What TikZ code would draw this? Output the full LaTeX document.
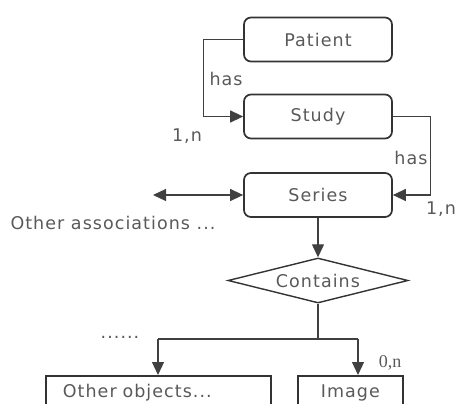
\documentclass[tikz,border=0pt]{standalone}
\usepackage{fontspec}
\setmainfont{DejaVu Sans}[LetterSpace=6]
\newfontfamily\serifnum{Liberation Serif}
\usetikzlibrary{arrows.meta,shapes.geometric}
\tikzset{
  entity/.style={draw=black!80,line width=1.7pt,rounded corners=7pt,minimum width=148pt,minimum height=44pt,text=black!65},
  objbox/.style={draw=black!80,line width=1.7pt,minimum height=34pt,anchor=north west,text=black!65},
  rel/.style={draw=black!80,line width=1.4pt,shape=diamond,aspect=4,inner sep=0pt,minimum width=180pt,minimum height=45pt,text=black!65},
  link/.style={draw=black!75,line width=1.2pt},
  arr/.style={link,-{Triangle[length=13pt,width=12pt]}},
  lbl/.style={text=black!65}
}
\begin{document}
\begin{tikzpicture}[x=1pt,y=-1pt,font=\fontsize{17.5}{20}\selectfont]
\useasboundingbox (0,0) rectangle (455,404);
\clip (0,0) rectangle (455,404);
\node[entity](patient) at (318,39.5){Patient};
\node[entity](study) at (318,116.5){Study};
\node[entity](series) at (318,195){Series};
\node[rel](contains) at (318,280.5){Contains};
\node[objbox,minimum width=225pt,text width=191pt,inner xsep=17pt,align=left](other) at (45,375){Other objects...};
\node[objbox,minimum width=105pt](image) at (297,375){Image};
\coordinate (jl) at (158,339);
\coordinate (jr) at (358,339);
\coordinate (assoc) at (153,195);
% has / has
\draw[arr](patient.west)--++(-40,0)|-(study.west);
\draw[arr](study.east)--++(38,0)|-(series.east);
\node[lbl,anchor=west](has1) at (206,79){has};
\node[lbl](card1) at (187,136){1,n};
\node[lbl](has2) at (411,158){has};
\node[lbl](card2) at (441,209){1,n};
% other associations
\draw[link,{Triangle[length=13pt,width=12pt]}-{Triangle[length=13pt,width=12pt]}](assoc)--(series.west);
\node[lbl](others) at (113,223){Other associations ...};
% contains
\draw[arr](series.south)--(contains.north);
\draw[link](contains.south)--(contains.south|-jl);
\draw[link](jl)--(jr);
\draw[arr](jl)--(jl|-other.north);
\draw[arr](jr)--(jr|-image.north);
\node[lbl](dots) at (120,337){......};
\node[text=black!65,font=\serifnum\fontsize{18}{20}\selectfont](card3) at (390,363){0,n};
\end{tikzpicture}
\end{document}
